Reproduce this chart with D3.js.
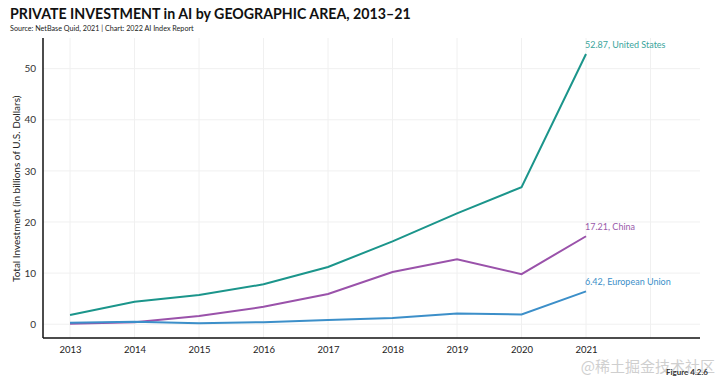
<!DOCTYPE html>
<html>
<head>
<meta charset="utf-8">
<script src="https://cdn.jsdelivr.net/npm/d3@7"></script>
<style>
  body { margin: 0; background: #fff; }
  text { font-family: "Lato", "Noto Sans", sans-serif; }
</style>
</head>
<body>
<div id="wrapper"></div>
<script>
const years = [2013, 2014, 2015, 2016, 2017, 2018, 2019, 2020, 2021];
const usValues = [1.8, 4.4, 5.7, 7.8, 11.2, 16.2, 21.7, 26.8, 52.87];
const chinaValues = [0.1, 0.4, 1.6, 3.4, 5.9, 10.2, 12.7, 9.8, 17.21];
const euValues = [0.3, 0.5, 0.2, 0.4, 0.8, 1.2, 2.1, 1.9, 6.42];
const seriesNames = ["United States", "China", "European Union"];
const yTicks = [0, 10, 20, 30, 40, 50];

const dimensions = {
    width: 720,
    height: 383,
    margin: { top: 38, right: 20, bottom: 45, left: 43 },
}
dimensions.boundedWidth = dimensions.width - dimensions.margin.left - dimensions.margin.right
dimensions.boundedHeight = dimensions.height - dimensions.margin.top - dimensions.margin.bottom

const wrapper = d3.select("#wrapper")
    .append("svg")
    .attr("width", dimensions.width)
    .attr("height", dimensions.height);

// title
wrapper.append("text")
    .attr("x", 10).attr("y", 19)
    .attr("font-size", "14.2px").attr("font-weight", "bold")
    .attr("fill", "#111")
    .text("PRIVATE INVESTMENT in AI by GEOGRAPHIC AREA, 2013–21");
wrapper.append("text")
    .attr("x", 10).attr("y", 31)
    .attr("font-size", "7.2px")
    .attr("fill", "#222")
    .text("Source: NetBase Quid, 2021 | Chart: 2022 AI Index Report");

const bounds = wrapper.append("g")
    .attr("transform", `translate(${dimensions.margin.left},${dimensions.margin.top})`);

const xScaler = d3.scaleLinear()
    .domain([2012.581, 2022.767])
    .range([0, dimensions.boundedWidth]);

const yScaler = d3.scaleLinear()
    .domain([-2.7, 56])
    .range([dimensions.boundedHeight, 0]);

// grid
bounds.append("g")
    .selectAll("line")
    .data(years.concat([2022]))
    .join("line")
    .attr("x1", d => xScaler(d)).attr("x2", d => xScaler(d))
    .attr("y1", 0).attr("y2", dimensions.boundedHeight)
    .attr("stroke", "#f0f0f0").attr("stroke-width", 1);
bounds.append("g")
    .selectAll("line")
    .data(yTicks)
    .join("line")
    .attr("x1", 0).attr("x2", dimensions.boundedWidth)
    .attr("y1", d => yScaler(d)).attr("y2", d => yScaler(d))
    .attr("stroke", "#f0f0f0").attr("stroke-width", 1);

// axes
const xAxisGen = d3.axisBottom(xScaler)
    .tickValues(years).tickFormat(d3.format("d"))
    .tickSize(0).tickPadding(8);
const xAxis = bounds.append("g")
    .attr("transform", `translate(0,${dimensions.boundedHeight})`)
    .call(xAxisGen);
xAxis.select(".domain").remove();
xAxis.selectAll("text").attr("font-size", "9.5px").attr("fill", "#222")
    .style("font-family", "Lato, sans-serif");

const yAxisGen = d3.axisLeft(yScaler)
    .tickValues(yTicks).tickSize(0).tickPadding(7);
const yAxis = bounds.append("g").call(yAxisGen);
yAxis.select(".domain").remove();
yAxis.selectAll("text").attr("font-size", "10px").attr("fill", "#333")
    .style("font-family", "Lato, sans-serif");

bounds.append("line")
    .attr("x1", 0).attr("x2", dimensions.boundedWidth)
    .attr("y1", dimensions.boundedHeight).attr("y2", dimensions.boundedHeight)
    .attr("stroke", "#111").attr("stroke-width", 1.5);
bounds.append("line")
    .attr("x1", 0).attr("x2", 0)
    .attr("y1", 0).attr("y2", dimensions.boundedHeight)
    .attr("stroke", "#111").attr("stroke-width", 1.5);

// y label
wrapper.append("text")
    .attr("transform", `translate(20,${dimensions.margin.top + yScaler(26.5)}) rotate(-90)`)
    .attr("text-anchor", "middle")
    .attr("font-size", "10px").attr("fill", "#222")
    .text("Total Investment (in billions of U.S. Dollars)");

// lines
const series = [
    { name: seriesNames[0], values: usValues, color: "#1b958b", label: "#3aa59c", dy: -6 },
    { name: seriesNames[1], values: chinaValues, color: "#9a52aa", label: "#9a5aaa", dy: -6 },
    { name: seriesNames[2], values: euValues, color: "#3c8fc9", label: "#3c8fc9", dy: -6 },
];

const lineGen = d3.line()
    .x((d, i) => xScaler(years[i]))
    .y(d => yScaler(d));

bounds.append("g")
    .selectAll("path")
    .data(series)
    .join("path")
    .attr("d", d => lineGen(d.values))
    .attr("fill", "none")
    .attr("stroke", d => d.color)
    .attr("stroke-width", 2);

bounds.append("g")
    .selectAll("text")
    .data(series)
    .join("text")
    .attr("x", xScaler(2021) - 1)
    .attr("y", d => yScaler(d.values[d.values.length - 1]) + d.dy)
    .attr("font-size", "9px")
    .attr("fill", d => d.label)
    .text(d => `${d.values[d.values.length - 1]}, ${d.name}`);

// footer
wrapper.append("text")
    .attr("x", 715).attr("y", 372)
    .attr("text-anchor", "end")
    .attr("font-size", "15px").attr("fill", "#cfcfcf")
    .style("font-family", "'Noto Sans CJK SC', sans-serif")
    .text("@稀土掘金技术社区");
wrapper.append("text")
    .attr("x", 708).attr("y", 375)
    .attr("text-anchor", "end")
    .attr("font-size", "8px").attr("font-weight", "bold").attr("fill", "#333")
    .text("Figure 4.2.6");
</script>
</body>
</html>
